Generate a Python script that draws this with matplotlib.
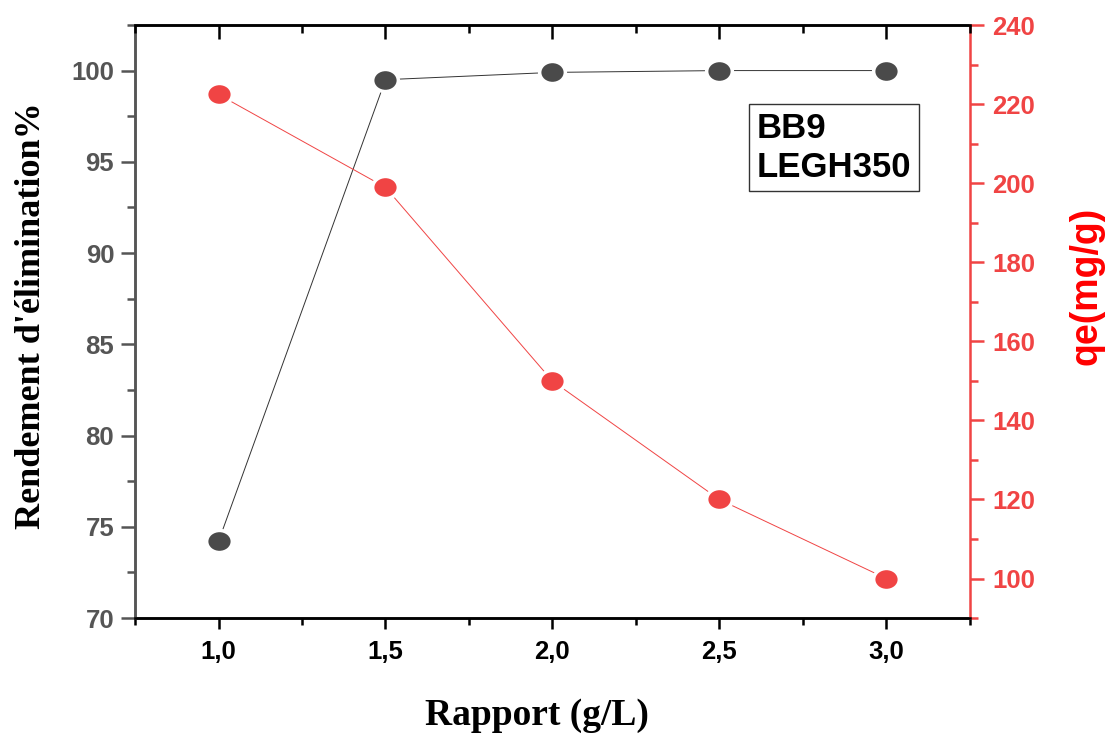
import numpy as np
import matplotlib
matplotlib.use("Agg")
import matplotlib.pyplot as plt
from matplotlib.path import Path
from matplotlib.ticker import MultipleLocator, FixedLocator

# Data
rapport = [1.0, 1.5, 2.0, 2.5, 3.0]
rendement = [74.2, 99.5, 99.9, 100.0, 100.0]
qe = [222.5, 199.0, 150.0, 120.0, 100.0]
x_ticks = [1.0, 1.5, 2.0, 2.5, 3.0]
x_ticklabels = ["1,0", "1,5", "2,0", "2,5", "3,0"]
left_ticks = [70, 75, 80, 85, 90, 95, 100]
right_ticks = [100, 120, 140, 160, 180, 200, 220, 240]

GRAY = "#555555"
DARK = "#4a4a4a"
RED = "#f04444"

# slightly flattened circular marker
circ = Path.unit_circle()
ellipse = Path(circ.vertices * np.array([1.0, 0.86]), circ.codes)

rect = [0.122, 0.158, 0.754, 0.808]
fig = plt.figure(figsize=(11.07, 7.34), dpi=100)
ax = fig.add_axes(rect)
ax2 = ax.twinx()

ax.plot(rapport, rendement, color="#333333", lw=0.7, marker=ellipse,
        ms=18.5, mfc=DARK, mec="white", mew=2.5, zorder=3)
ax2.plot(rapport, qe, color=RED, lw=0.7, marker=ellipse,
         ms=18.5, mfc=RED, mec="white", mew=2.5, zorder=3)

ax.set_xlim(0.75, 3.25)
ax.set_ylim(70, 102.5)
ax2.set_ylim(90, 240.1)

tick_font = dict(family="Liberation Sans", weight="bold", size=18.5)

ax.xaxis.set_major_locator(FixedLocator(x_ticks))
ax.set_xticklabels(x_ticklabels, **tick_font, color="black")
ax.xaxis.set_minor_locator(MultipleLocator(0.25))
ax.tick_params(axis="x", which="major", direction="out", length=8, width=1.8,
               top=False, pad=8)
ax.tick_params(axis="x", which="minor", direction="out", length=5, width=1.8,
               top=False)

# overlay axes carrying the inward ticks of the top edge
top = fig.add_axes(rect, sharex=ax, label="top-ticks")
top.patch.set_visible(False)
for s in top.spines.values():
    s.set_visible(False)
top.yaxis.set_visible(False)
top.xaxis.tick_top()
top.tick_params(axis="x", which="both", direction="in", width=1.8,
                color="black", labeltop=False, labelbottom=False)
top.tick_params(axis="x", which="major", length=10)
top.tick_params(axis="x", which="minor", length=6)

ax.yaxis.set_major_locator(FixedLocator(left_ticks))
ax.set_yticklabels([str(v) for v in left_ticks], **tick_font, color=GRAY)
ax.yaxis.set_minor_locator(MultipleLocator(2.5))
ax.tick_params(axis="y", which="major", direction="out", length=10, width=1.8,
               color=GRAY, pad=5)
ax.tick_params(axis="y", which="minor", direction="out", length=6, width=1.8,
               color=GRAY)

ax2.yaxis.set_major_locator(FixedLocator(right_ticks))
ax2.set_yticklabels([str(v) for v in right_ticks], **tick_font, color=RED)
ax2.yaxis.set_minor_locator(MultipleLocator(10))
ax2.tick_params(axis="y", which="major", direction="out", length=10, width=1.8,
                color=RED, pad=6)
ax2.tick_params(axis="y", which="minor", direction="out", length=6, width=1.8,
                color=RED)

for a in (ax, ax2):
    for s in a.spines.values():
        s.set_linewidth(1.8)
ax.spines["left"].set_color(GRAY)
ax2.spines["left"].set_color(GRAY)
ax.spines["bottom"].set_color("black")
ax.spines["top"].set_color("black")
ax2.spines["top"].set_color("black")
ax2.spines["right"].set_color(RED)
ax.spines["right"].set_visible(False)

ax.set_xlabel("Rapport (g/L)", family="Liberation Serif", weight="bold",
              size=27)
ax.xaxis.set_label_coords(0.482, -0.135)
ax.set_ylabel("Rendement d'élimination%", family="Liberation Serif",
              weight="bold", size=26)
ax.yaxis.set_label_coords(-0.104, 0.51)
ax2.set_ylabel("qe(mg/g)", family="Liberation Sans", weight="bold",
               size=27, color="#ff0000")
ax2.yaxis.set_label_coords(1.118, 0.56)

ax2.text(0.745, 0.853, "BB9\nLEGH350", transform=ax.transAxes,
         family="Liberation Sans", weight="bold", size=25, color="black",
         va="top", ha="left", linespacing=1.22,
         bbox=dict(boxstyle="square,pad=0.22", fc="white", ec="#333333", lw=1.0))

fig.savefig("out.png", dpi=100)
